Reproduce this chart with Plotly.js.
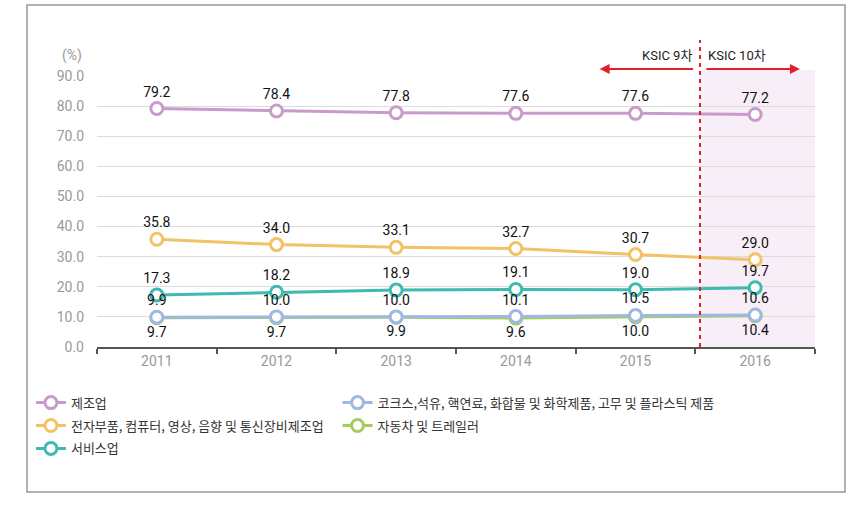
<!DOCTYPE html>
<html><head><meta charset="utf-8">
<script src="https://cdn.plot.ly/plotly-3.0.1.min.js"></script>
<style>html,body{margin:0;padding:0;background:#fff;}</style>
</head><body>
<div id="chart" style="width:861px;height:526px;"></div>
<script>
const years = ['2011','2012','2013','2014','2015','2016'];
const manufacturing = [79.2, 78.4, 77.8, 77.6, 77.6, 77.2];
const electronics = [35.8, 34.0, 33.1, 32.7, 30.7, 29.0];
const services = [17.3, 18.2, 18.9, 19.1, 19.0, 19.7];
const coke = [9.9, 10.0, 10.0, 10.1, 10.5, 10.6];
const autos = [9.7, 9.7, 9.9, 9.6, 10.0, 10.4];
const names = ['제조업', '전자부품, 컴퓨터, 영상, 음향 및 통신장비제조업', '서비스업',
  '코크스,석유, 핵연료, 화합물 및 화학제품, 고무 및 플라스틱 제품', '자동차 및 트레일러'];
const colors = ['#c99bcb', '#f1c364', '#3fbab0', '#9fb8e2', '#a5cd5a'];

const numFont = {family: 'Liberation Sans Narrow, Roboto, Arial', size: 14, color: '#111'};
function tr(y, i, pos, legend, rank) {
  return {
    x: years, y: y, name: names[i], type: 'scatter', mode: 'lines+markers+text',
    text: y.map(v => v.toFixed(1)), textposition: pos, textfont: numFont,
    line: {color: colors[i], width: 3},
    marker: {symbol: 'circle', size: 12, color: '#fff', line: {color: colors[i], width: 3}},
    legend: legend, legendgroup: 'g' + i, legendrank: rank, cliponaxis: false, hoverinfo: 'skip'
  };
}
const data = [
  tr(manufacturing, 0, 'top center', 'legend', 1),
  tr(electronics, 1, 'top center', 'legend', 2),
  tr(services, 2, 'top center', 'legend', 3),
  tr(autos, 4, 'bottom center', 'legend2', 2),
  tr(coke, 3, 'top center', 'legend2', 1)
];
const korFont = {family: 'Noto Sans CJK KR, Noto Sans', size: 13, color: '#333'};
const tickFont = {family: 'Roboto, Liberation Sans, Arial', size: 14, color: '#999'};
const layout = {
  width: 861, height: 526,
  margin: {l: 97, r: 46, t: 76, b: 179},
  paper_bgcolor: '#fff', plot_bgcolor: 'rgba(0,0,0,0)',
  showlegend: true,
  legend: {x: -0.092, y: -0.15, xanchor: 'left', yanchor: 'top', orientation: 'v',
    font: korFont, bgcolor: 'rgba(0,0,0,0)', tracegroupgap: 3},
  legend2: {x: 0.335, y: -0.15, xanchor: 'left', yanchor: 'top', orientation: 'v',
    font: korFont, bgcolor: 'rgba(0,0,0,0)', tracegroupgap: 3},
  xaxis: {
    type: 'category', range: [-0.5, 5.5], showgrid: false, zeroline: false,
    showline: true, linecolor: '#555', linewidth: 2,
    ticks: 'outside', tickson: 'boundaries', ticklen: 5, tickwidth: 2, tickcolor: '#555',
    tickfont: tickFont
  },
  yaxis: {
    range: [0, 90], dtick: 10, tickformat: '.1f', showgrid: true, gridcolor: '#dcdcdc', gridwidth: 1,
    zeroline: false, showline: false, ticks: '', ticklabelstandoff: 12,
    tickfont: tickFont
  },
  shapes: [
    {type: 'rect', xref: 'paper', yref: 'paper', x0: 0.8398, x1: 1.0, y0: 0, y1: 1.022,
      fillcolor: '#f7eef7', line: {width: 0}, layer: 'below'},
    {type: 'line', xref: 'paper', yref: 'paper', x0: 0.8398, x1: 0.8398, y0: 0, y1: 1.133,
      line: {color: '#e0202a', width: 2, dash: '4px,4px'}},
    {type: 'rect', xref: 'paper', yref: 'paper', x0: -0.0975, x1: 1.0418, y0: -0.535, y1: 1.262,
      line: {color: '#999', width: 1.5}, fillcolor: 'rgba(0,0,0,0)'}
  ],
  annotations: [
    {xref: 'paper', yref: 'paper', x: -0.035, y: 1.077, xanchor: 'center', yanchor: 'middle',
      text: '(%)', showarrow: false, font: tickFont},
    {xref: 'paper', yref: 'paper', x: 0.700, y: 1.026, ax: 95, ay: 0, text: '', showarrow: true,
      arrowhead: 2, arrowsize: 1, arrowwidth: 2, arrowcolor: '#e0202a'},
    {xref: 'paper', yref: 'paper', x: 0.979, y: 1.026, ax: -95, ay: 0, text: '', showarrow: true,
      arrowhead: 2, arrowsize: 1, arrowwidth: 2, arrowcolor: '#e0202a'},
    {xref: 'paper', yref: 'paper', x: 0.832, y: 1.077, xanchor: 'right', yanchor: 'middle',
      text: 'KSIC 9차', showarrow: false,
      font: {family: 'Roboto, Noto Sans CJK KR', size: 13, color: '#222'}},
    {xref: 'paper', yref: 'paper', x: 0.848, y: 1.077, xanchor: 'left', yanchor: 'middle',
      text: 'KSIC 10차', showarrow: false,
      font: {family: 'Roboto, Noto Sans CJK KR', size: 13, color: '#222'}}
  ]
};
Plotly.newPlot('chart', data, layout, {displayModeBar: false, staticPlot: true});
</script>
</body></html>
